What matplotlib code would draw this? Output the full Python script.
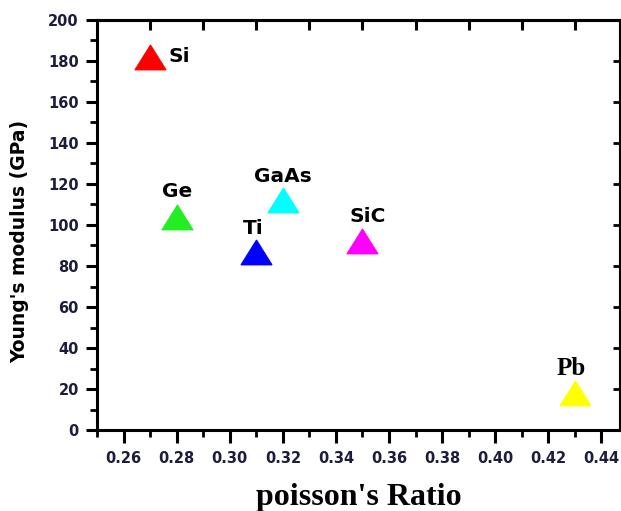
import matplotlib
matplotlib.use("Agg")
import matplotlib.pyplot as plt
from matplotlib.path import Path
from matplotlib.ticker import MultipleLocator, FixedLocator

# data
materials = ["Si", "Ge", "GaAs", "Ti", "SiC", "Pb"]
poisson = [0.27, 0.28, 0.32, 0.31, 0.35, 0.43]
youngs = [182, 104, 112, 87, 92, 18]
colors = ["#ff0000", "#22ee22", "#00ffff", "#0000ff", "#ff00ff", "#ffff00"]

# label offsets (points) and styles
offsets = [(13, 0), (0, 18), (0, 17), (-2, 17), (4, 18), (-3, 18)]
aligns = [("left", "center"), ("center", "center"), ("center", "center"),
          ("center", "center"), ("center", "center"), ("center", "center")]
serif_labels = {"Pb"}

tri = Path([(-1, -0.8), (1, -0.8), (0, 0.8), (-1, -0.8)],
           [Path.MOVETO, Path.LINETO, Path.LINETO, Path.CLOSEPOLY])

fig = plt.figure(figsize=(6.21, 5.11), dpi=100)
ax = fig.add_axes([97 / 621, 81 / 511, 523 / 621, 410 / 511])

for name, x, y, c, off, al in zip(materials, poisson, youngs, colors, offsets, aligns):
    ax.plot(x, y, marker=tri, markersize=22, color=c, linestyle="none")
    if name in serif_labels:
        fam, fs = "Liberation Serif", 18
    else:
        fam, fs = "DejaVu Sans", 14.5
    ax.annotate(name, (x, y), xytext=off, textcoords="offset points",
                ha=al[0], va=al[1], fontsize=fs, fontweight="bold", family=fam)

ax.set_xlim(0.25, 0.447)
ax.set_ylim(0, 200)

ax.xaxis.set_minor_locator(MultipleLocator(0.01))
ax.yaxis.set_major_locator(MultipleLocator(20))
ax.yaxis.set_minor_locator(MultipleLocator(10))
ax.set_xticks([0.26 + 0.02 * i for i in range(10)])
ax.set_xticklabels(["%.2f" % (0.26 + 0.02 * i) for i in range(10)])

for s in ax.spines.values():
    s.set_linewidth(2.2)

tick_color = "#1c1c3c"
ax.tick_params(axis="both", which="major", direction="out", width=2.2,
               labelsize=10.5, labelcolor=tick_color, top=False, right=False)
ax.tick_params(axis="x", which="major", length=9, pad=6)
ax.tick_params(axis="y", which="major", length=8, pad=5)
ax.tick_params(axis="both", which="minor", direction="out", width=2, length=5,
               top=False, right=False)
for lab in ax.get_xticklabels() + ax.get_yticklabels():
    lab.set_fontweight("bold")

# top and right inward ticks via secondary axes
top = ax.secondary_xaxis("top")
top.xaxis.set_major_locator(FixedLocator([0.27 + 0.02 * i for i in range(9)]))
top.tick_params(direction="in", length=7, width=2.2, labeltop=False)
top.spines["top"].set_linewidth(2.2)
right = ax.secondary_yaxis("right")
right.yaxis.set_major_locator(MultipleLocator(20))
right.tick_params(direction="in", length=5, width=2, labelright=False)
right.spines["right"].set_linewidth(2.2)

ax.set_ylabel("Young's modulus (GPa)", fontsize=13.5, fontweight="bold",
              family="DejaVu Sans", va="center")
ax.yaxis.set_label_coords(-0.148, 0.46)
ax.set_xlabel("poisson's Ratio", fontsize=23, fontweight="bold",
              family="Liberation Serif", va="center")
ax.xaxis.set_label_coords(0.5, -0.165)

fig.savefig("out.png", dpi=100)
